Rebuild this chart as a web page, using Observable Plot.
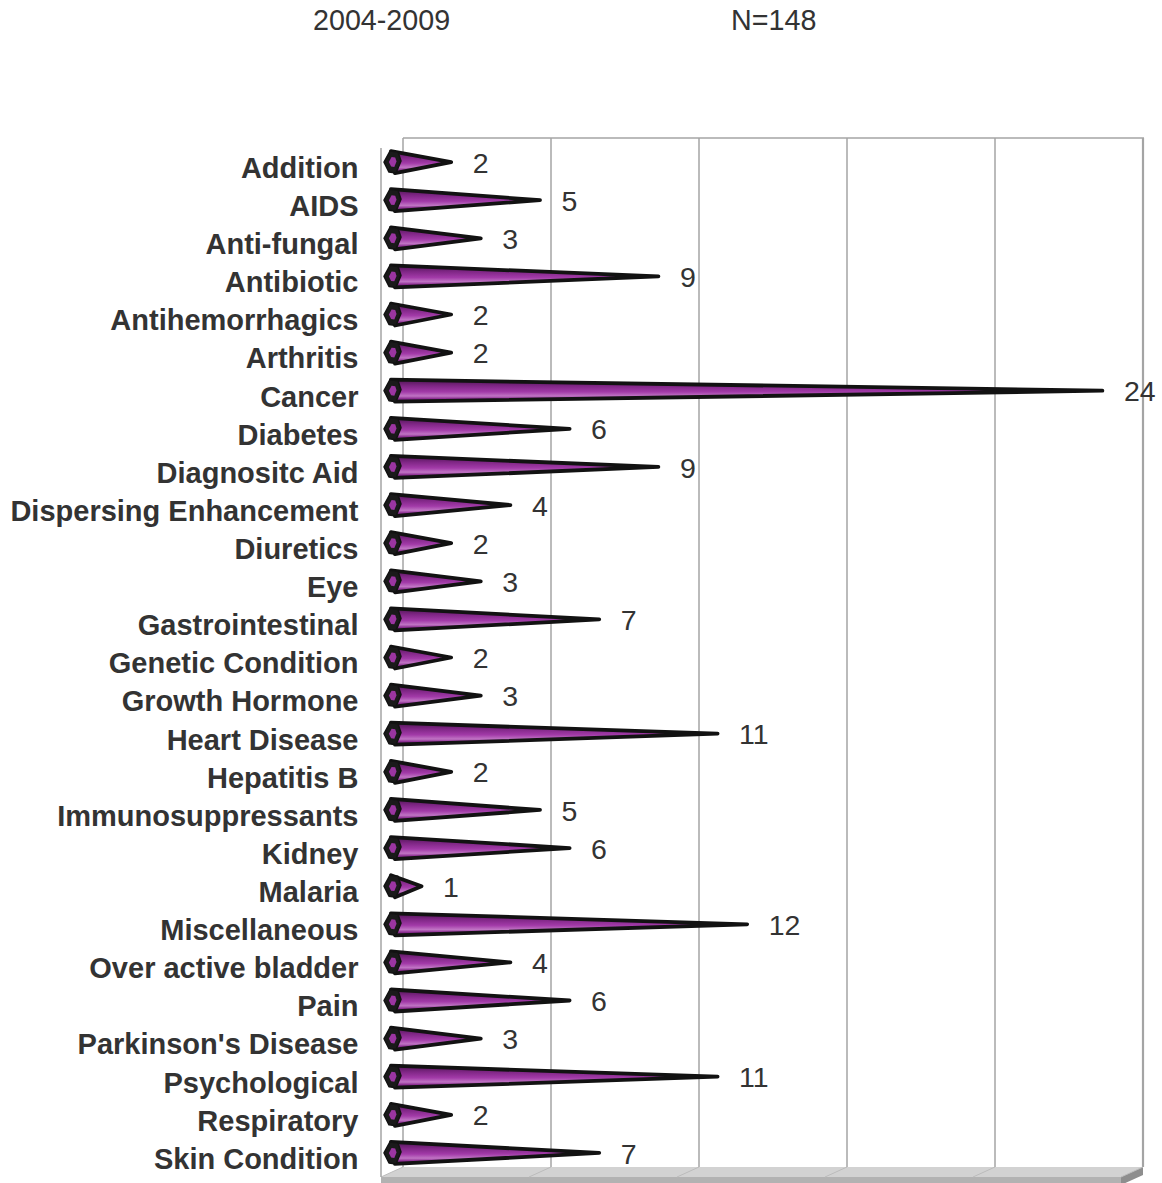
<!DOCTYPE html>
<html><head><meta charset="utf-8">
<script src="https://cdn.jsdelivr.net/npm/d3@7"></script>
<script src="https://cdn.jsdelivr.net/npm/@observablehq/plot@0.6"></script>
<style>
body{margin:0;background:#fff;font-family:"Liberation Sans",Arial,sans-serif;}
#head{position:relative;height:60px;}
#head span{position:absolute;top:5px;font-size:28.7px;color:#333;line-height:30px;white-space:nowrap;}
#chart svg{display:block;overflow:visible;}
g[aria-label="y-axis tick label"] text{font-weight:bold;}
</style></head><body>
<div id="head"><span id="t1" style="left:313px"></span><span id="t2" style="left:731px"></span></div>
<div id="chart"></div>
<script>
const titleLeft = "2004-2009";
const titleRight = "N=148";
const categories = ["Addition","AIDS","Anti-fungal","Antibiotic","Antihemorrhagics","Arthritis","Cancer","Diabetes","Diagnositc Aid","Dispersing Enhancement","Diuretics","Eye","Gastrointestinal","Genetic Condition","Growth Hormone","Heart Disease","Hepatitis B","Immunosuppressants","Kidney","Malaria","Miscellaneous","Over active bladder","Pain","Parkinson's Disease","Psychological","Respiratory","Skin Condition"];
const values = [2,5,3,9,2,2,24,6,9,4,2,3,7,2,3,11,2,5,6,1,12,4,6,3,11,2,7];
const gridTicks = [0,5,10,15,20,25];

document.getElementById("t1").textContent = titleLeft;
document.getElementById("t2").textContent = titleRight;

const data = categories.map((c, i) => ({category: c, value: values[i]}));
const D = 11, V = 5; // 3D depth offsets

function frameMark(index, scales, vals, dim) {
  const x = scales.x;
  const g = d3.create("svg:g");
  const top = dim.marginTop, bottom = dim.height - dim.marginBottom;
  const x0 = x(gridTicks[0]), x1 = x(gridTicks[gridTicks.length - 1]);
  g.append("path").attr("d", `M${x0-D},${bottom+V}L${x0+D},${bottom-V}L${x1+D},${bottom-V}L${x1-D},${bottom+V}Z`).attr("fill", "#d2d2d2");
  g.append("path").attr("d", `M${x0-D},${bottom+V}L${x1-D},${bottom+V}L${x1-D},${bottom+V+10}L${x0-D},${bottom+V+10}Z`).attr("fill", "#b2b2b2");
  g.append("path").attr("d", `M${x1-D},${bottom+V}L${x1+D},${bottom-V}L${x1+D},${bottom-V+8}L${x1-D},${bottom+V+8}Z`).attr("fill", "#8e8e8e");
  for (const t of gridTicks) {
    g.append("line").attr("x1", x(t)+D).attr("x2", x(t)+D).attr("y1", top-V).attr("y2", bottom-V)
      .attr("stroke", "#a4a4a4").attr("stroke-width", t === gridTicks[gridTicks.length-1] ? 2.2 : 1.5);
    g.append("line").attr("x1", x(t)+D).attr("x2", x(t)-D).attr("y1", bottom-V).attr("y2", bottom+V)
      .attr("stroke", "#bcbcbc").attr("stroke-width", 1);
  }
  g.append("line").attr("x1", x0+D).attr("x2", x1+D+1).attr("y1", top-V).attr("y2", top-V).attr("stroke", "#a4a4a4").attr("stroke-width", 1.5);
  g.append("line").attr("x1", x0-D).attr("x2", x0-D).attr("y1", top+V).attr("y2", bottom+V).attr("stroke", "#a4a4a4").attr("stroke-width", 1.5);
  return g.node();
}

function coneMark(index, scales, vals, dim) {
  const x = scales.x, y = scales.y;
  const g = d3.create("svg:g");
  const defs = g.append("defs");
  const grad = defs.append("linearGradient").attr("id", "coneGrad").attr("x1", 0).attr("y1", 0).attr("x2", 0).attr("y2", 1);
  [[0,"#4e1553"],[0.28,"#7f2685"],[0.55,"#a23aa8"],[0.74,"#c074c4"],[0.86,"#8c2d92"],[1,"#4e1553"]]
    .forEach(([o,c]) => grad.append("stop").attr("offset", o).attr("stop-color", c));
  const hex = [[-8,0],[-2,-11],[6,-10],[9,-1],[4,11],[-3,10]];
  data.forEach(d => {
    const cy = y(d.category);
    const x0 = x(0), tip = x(d.value);
    g.append("path").attr("d", `M${x0-1},${cy-11}L${tip},${cy}L${x0+3},${cy+11}Z`)
      .attr("fill", "url(#coneGrad)").attr("stroke", "#121212").attr("stroke-width", 3.8).attr("stroke-linejoin", "round");
    g.append("path").attr("d", "M" + hex.map(([a,b]) => `${x0+a},${cy+b}`).join("L") + "Z")
      .attr("fill", "#1a1a1a").attr("stroke", "#121212").attr("stroke-width", 1.5).attr("stroke-linejoin", "round");
    g.append("path").attr("d", "M" + hex.map(([a,b]) => `${x0+0.5+a*0.45},${cy+b*0.45}`).join("L") + "Z")
      .attr("fill", "#9b35a1");
  });
  return g.node();
}

const chart = Plot.plot({
  width: 1162,
  height: 1123,
  marginLeft: 392,
  marginRight: 30,
  marginTop: 83,
  marginBottom: 11,
  style: {fontFamily: "'Liberation Sans', Arial, sans-serif", background: "#fff", overflow: "visible"},
  x: {domain: [0, 25], axis: null},
  y: {type: "point", domain: categories, range: [83, 1112], padding: 0.5, round: false, axis: null},
  marks: [
    frameMark,
    coneMark,
    Plot.axisY({tickSize: 0, tickPadding: 34, fontSize: 29, fontWeight: "bold", fill: "#333", dy: 6, label: null}),
    Plot.text(data, {x: "value", y: "category", text: d => String(d.value), dx: 21, dy: 1, textAnchor: "start", fontSize: 28.5, fill: "#333"})
  ]
});
document.getElementById("chart").appendChild(chart);
</script>
</body></html>
